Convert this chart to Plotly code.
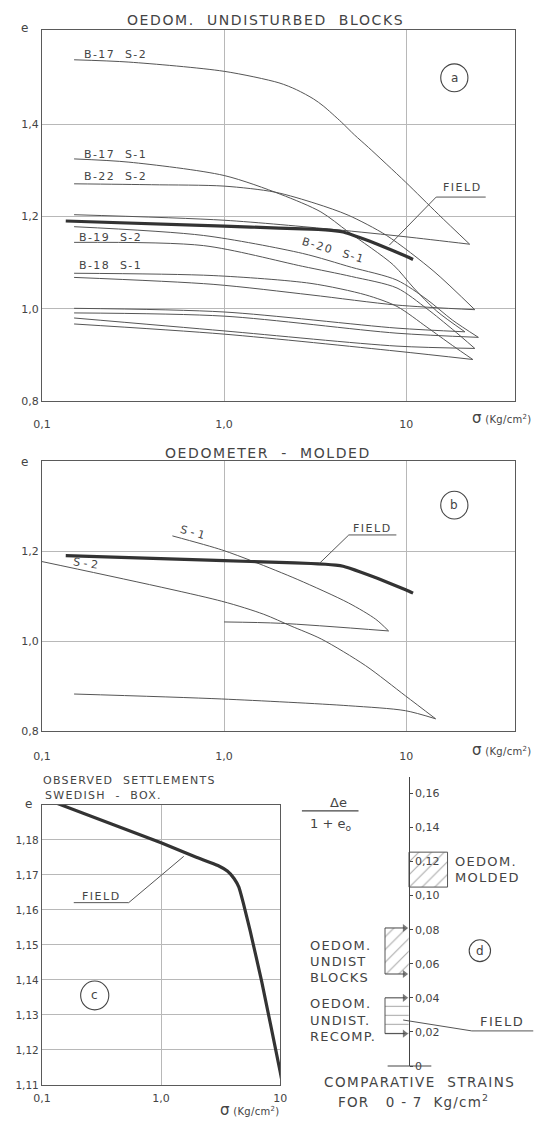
import plotly.graph_objects as go

W, H = 549, 1124


def px(x):
    return x / W


def py(y):
    return 1 - y / H


# ------------------------------------------------------------------ DATA
# Field curve (observed settlements) - sigma (kg/cm2), void ratio e
field_sigma = [0.135, 1.0, 2.0, 3.0, 3.6, 4.1, 4.5, 4.9, 5.6, 7.0, 10.0, 10.9]
field_e = [1.1904, 1.1792, 1.1750, 1.1727, 1.1711, 1.1690, 1.1665, 1.1620, 1.1540, 1.1395, 1.1138, 1.1070]

# (a) oedometer, undisturbed blocks: loading and unloading branches
b17s2_load_sig = [0.15, 0.3, 1.0, 2.0, 2.5, 3.1, 3.5, 4.4, 5.2, 6.2, 9.9, 15.0, 22.3]
b17s2_load_e = [1.540, 1.535, 1.515, 1.490, 1.475, 1.455, 1.440, 1.405, 1.377, 1.350, 1.275, 1.205, 1.140]
b17s2_unl_sig = [22.3, 10.0, 4.0, 1.0, 0.15]
b17s2_unl_e = [1.140, 1.156, 1.172, 1.192, 1.204]

b17s1_load_sig = [0.15, 0.3, 1.0, 2.05, 3.4, 4.8, 8.5, 11.0, 14.7, 21.0]
b17s1_load_e = [1.325, 1.318, 1.289, 1.248, 1.210, 1.167, 1.095, 1.045, 0.995, 0.950]
b17s1_unl_sig = [21.0, 8.9, 1.0, 0.15]
b17s1_unl_e = [0.950, 0.958, 0.993, 1.001]

b22s2_load_sig = [0.15, 0.4, 1.0, 1.9, 3.2, 4.8, 7.8, 14.2, 23.8]
b22s2_load_e = [1.271, 1.269, 1.266, 1.253, 1.228, 1.203, 1.159, 1.081, 0.998]
b22s2_unl_sig = [23.8, 8.9, 3.0, 0.87, 0.15]
b22s2_unl_e = [0.998, 1.008, 1.030, 1.053, 1.068]

b20s1_load_sig = [0.15, 0.77, 2.7, 5.0, 8.9, 13.0, 18.0, 24.9]
b20s1_load_e = [1.178, 1.159, 1.120, 1.090, 1.062, 1.020, 0.975, 0.938]
b20s1_unl_sig = [24.9, 8.9, 1.0, 0.15]
b20s1_unl_e = [0.938, 0.947, 0.984, 0.991]

b19s2_load_sig = [0.15, 0.77, 2.7, 5.0, 8.9, 13.0, 18.0, 23.8]
b19s2_load_e = [1.144, 1.137, 1.092, 1.070, 1.045, 1.000, 0.955, 0.914]
b19s2_unl_sig = [23.8, 8.9, 1.0, 0.15]
b19s2_unl_e = [0.914, 0.919, 0.952, 0.980]

b18s1_load_sig = [0.15, 0.87, 3.0, 6.0, 8.9, 13.0, 18.0, 23.2]
b18s1_load_e = [1.077, 1.072, 1.055, 1.030, 1.005, 0.960, 0.920, 0.890]
b18s1_unl_sig = [23.2, 8.9, 1.0, 0.15]
b18s1_unl_e = [0.890, 0.908, 0.945, 0.967]

# (b) oedometer, molded
s1_load_sig = [0.52, 0.97, 1.45, 2.54, 4.83, 6.8, 8.0]
s1_load_e = [1.234, 1.203, 1.177, 1.137, 1.085, 1.049, 1.023]
s1_unl_sig = [8.0, 2.04, 1.0]
s1_unl_e = [1.023, 1.040, 1.043]
s2_load_sig = [0.1, 0.97, 1.65, 2.33, 3.42, 5.98, 9.9, 14.5]
s2_load_e = [1.177, 1.089, 1.060, 1.034, 1.005, 0.946, 0.879, 0.828]
s2_unl_sig = [14.5, 9.9, 4.83, 0.97, 0.15]
s2_unl_e = [0.828, 0.846, 0.857, 0.872, 0.883]

# (d) comparative strains  de/(1+e0) for 0-7 kg/cm2
molded_range = [0.105, 0.1255]
blocks_range = [0.054, 0.081]
recomp_range = [0.019, 0.040]
field_strain = 0.027

# tick labels
x_ticks = [0.1, 1, 10]
x_ticktext = ["0,1", "1,0", "10"]
ya_ticks = [0.8, 1.0, 1.2, 1.4]
ya_text = ["0,8", "1,0", "1,2", "1,4"]
yb_ticks = [0.8, 1.0, 1.2]
yb_text = ["0,8", "1,0", "1,2"]
yc_ticks = [1.11, 1.12, 1.13, 1.14, 1.15, 1.16, 1.17, 1.18]
yc_text = ["1,11", "1,12", "1,13", "1,14", "1,15", "1,16", "1,17", "1,18"]
yd_ticks = [0, 0.02, 0.04, 0.06, 0.08, 0.10, 0.12, 0.14, 0.16]
yd_text = ["0", "0,02", "0,04", "0,06", "0,08", "0,10", "0,12", "0,14", "0,16"]

# ------------------------------------------------------------------ STYLE
INK = "#444444"
THIN = dict(color="#555555", width=1.0, shape="spline", smoothing=0.8)
THICK = dict(color="#333333", width=3.2, shape="spline", smoothing=0.4)
GRID = "#b8b8b8"
AXC = "#5a5a5a"
FONT = "DejaVu Sans"
CLEAR = "rgba(0,0,0,0)"

fig = go.Figure()


def curve(sig, e, ax, thick=False):
    fig.add_trace(go.Scatter(x=sig, y=e, mode="lines", line=THICK if thick else THIN,
                             xaxis=ax[0], yaxis=ax[1], showlegend=False, hoverinfo="skip"))


A = ("x", "y")
B = ("x2", "y2")
C = ("x3", "y3")

for s, e in [(b17s2_load_sig, b17s2_load_e), (b17s2_unl_sig, b17s2_unl_e),
             (b17s1_load_sig, b17s1_load_e), (b17s1_unl_sig, b17s1_unl_e),
             (b22s2_load_sig, b22s2_load_e), (b22s2_unl_sig, b22s2_unl_e),
             (b20s1_load_sig, b20s1_load_e), (b20s1_unl_sig, b20s1_unl_e),
             (b19s2_load_sig, b19s2_load_e), (b19s2_unl_sig, b19s2_unl_e),
             (b18s1_load_sig, b18s1_load_e), (b18s1_unl_sig, b18s1_unl_e)]:
    curve(s, e, A)
curve(field_sigma, field_e, A, thick=True)

for s, e in [(s1_load_sig, s1_load_e), (s1_unl_sig, s1_unl_e),
             (s2_load_sig, s2_load_e), (s2_unl_sig, s2_unl_e)]:
    curve(s, e, B)
curve(field_sigma, field_e, B, thick=True)

curve(field_sigma, field_e, C, thick=True)

# (d) hatched strain ranges (x positions are layout constants, paper fraction)
D_LEFT = px(290)
MX0, MX1 = px(412), px(451.7)
BX0, BX1 = px(387.3), px(411.7)
ARROW_TIP = px(407.5)


def hatch_box(x0, x1, rng, pattern, outline):
    fig.add_trace(go.Scatter(
        x=[x0, x1, x1, x0, x0], y=[rng[0], rng[0], rng[1], rng[1], rng[0]],
        mode="lines", fill="toself", fillcolor=CLEAR,
        fillpattern=dict(shape=pattern, size=9, solidity=0.12, fgcolor="#555555", bgcolor=CLEAR),
        line=dict(color="#555555", width=1 if outline else 0),
        xaxis="x4", yaxis="y4", showlegend=False, hoverinfo="skip"))


hatch_box(MX0, MX1, molded_range, "/", True)
hatch_box(BX0, BX1, blocks_range, "/", False)
hatch_box(BX0, BX1, recomp_range, "-", False)
for rng in (blocks_range, recomp_range):
    # left edge of the range
    fig.add_trace(go.Scatter(x=[BX0, BX0], y=rng, mode="lines", line=dict(color="#555555", width=1),
                             xaxis="x4", yaxis="y4", showlegend=False, hoverinfo="skip"))
    # arrows at both limits, pointing at the strain axis
    for v in rng:
        fig.add_trace(go.Scatter(x=[BX0, ARROW_TIP], y=[v, v], mode="lines+markers",
                                 line=dict(color="#444444", width=1),
                                 marker=dict(symbol=["circle", "triangle-right"], size=[0, 7],
                                             color="#444444", line=dict(width=0)),
                                 xaxis="x4", yaxis="y4", showlegend=False, hoverinfo="skip"))

# ------------------------------------------------------------------ AXES
base_x = dict(type="log", showline=True, linecolor=AXC, linewidth=1.2, mirror=True,
              showgrid=True, gridcolor=GRID, gridwidth=1, zeroline=False, ticks="",
              tickvals=x_ticks, ticktext=x_ticktext, tickfont=dict(size=11, color=INK),
              fixedrange=True)
base_y = dict(showline=True, linecolor=AXC, linewidth=1.2, mirror=True,
              showgrid=True, gridcolor=GRID, gridwidth=1, zeroline=False, ticks="",
              tickfont=dict(size=11, color=INK), fixedrange=True)

layout = dict(
    width=W, height=H, autosize=False,
    margin=dict(l=0, r=0, t=0, b=0, pad=0),
    paper_bgcolor="white", plot_bgcolor=CLEAR,
    font=dict(family=FONT, color=INK, size=11),
    showlegend=False,
    xaxis=dict(base_x, domain=[px(34), px(521.7)], range=[-1, 1.6], anchor="y", ticklabelstandoff=13),
    yaxis=dict(base_y, domain=[py(403.5), py(30)], range=[0.8, 1.605], anchor="x",
               tickvals=ya_ticks, ticktext=ya_text),
    xaxis2=dict(base_x, domain=[px(34), px(521.7)], range=[-1, 1.6], anchor="y2", ticklabelstandoff=14),
    yaxis2=dict(base_y, domain=[py(736), py(464)], range=[0.8, 1.4], anchor="x2",
                tickvals=yb_ticks, ticktext=yb_text),
    xaxis3=dict(base_x, domain=[px(34), px(279.3)], range=[-1, 1], anchor="y3", ticklabelstandoff=3),
    yaxis3=dict(base_y, domain=[py(1091.7), py(810)], range=[1.11, 1.19], anchor="x3",
                tickvals=yc_ticks, ticktext=yc_text, tickfont=dict(size=10.5, color=INK)),
    xaxis4=dict(domain=[D_LEFT, 1], range=[D_LEFT, 1], visible=False, anchor="y4", fixedrange=True),
    yaxis4=dict(domain=[py(1072.7), py(781.7)], range=[0, 0.1697], anchor="free", position=px(411.7),
                side="right", showline=True, linecolor="#444444", linewidth=1.3, showgrid=False,
                zeroline=False, ticks="outside", ticklen=3, tickcolor="#444444",
                tickvals=yd_ticks, ticktext=yd_text, tickfont=dict(size=11, color=INK), fixedrange=True),
)
fig.update_layout(**layout)

# ------------------------------------------------------------------ TEXT
ann = []


def txt(x, y, s, size=11, xanchor="center", angle=0, ls=None):
    if ls:
        s = "<span style='letter-spacing:%spx'>%s</span>" % (ls, s)
    ann.append(dict(x=px(x), y=py(y), xref="paper", yref="paper", text=s, showarrow=False,
                    xanchor=xanchor, yanchor="middle", textangle=angle,
                    font=dict(size=size, color=INK, family=FONT)))


SIG = "<span style='font-size:15px'>σ</span> (Kg/cm<sup>2</sup>)"

# panel a
txt(264, 20, "OEDOM.  UNDISTURBED  BLOCKS", 14, ls=1.6)
txt(16, 28, "e", 12)
txt(507, 421, SIG, 10, ls=0.3)
txt(75, 55, "B-17  S-2", 11, "left", ls=1.4)
txt(75, 155, "B-17  S-1", 11, "left", ls=1.4)
txt(75, 177.7, "B-22  S-2", 11, "left", ls=1.4)
txt(70, 239.3, "B-19  S-2", 11, "left", ls=1.4)
txt(70, 267.3, "B-18  S-1", 11, "left", ls=1.4)
txt(334, 252, "B-20  S-1", 11, angle=17, ls=1.6)
txt(467.5, 188.3, "FIELD", 11, ls=1.5)
txt(458.7, 78.3, "a", 12)

# panel b
txt(267, 455.7, "OEDOMETER  -  MOLDED", 14, ls=1.6)
txt(16, 465, "e", 12)
txt(507, 755, SIG, 10, ls=0.3)
txt(374.5, 531.7, "FIELD", 11, ls=1.5)
txt(189, 536, "S - 1", 11, angle=16)
txt(79, 567, "S - 2", 11, angle=8)
txt(458.7, 508.3, "b", 12)

# panel c
txt(33, 785, "OBSERVED  SETTLEMENTS", 11, "left", ls=1.3)
txt(35, 800, "SWEDISH  -  BOX.", 11, "left", ls=1.3)
txt(20, 809, "e", 12)
txt(248, 1116.5, SIG, 10, ls=0.3)
txt(95, 901.7, "FIELD", 11, ls=1.5)
txt(88.3, 1001.7, "c", 12)

# panel d
txt(339, 808, "Δe", 13)
txt(331, 830, "1 + e<sub>o</sub>", 13)
txt(457, 866.7, "OEDOM.", 13, "left", ls=1.3)
txt(457, 883, "MOLDED", 13, "left", ls=1.3)
for i, s in enumerate(["OEDOM.", "UNDIST", "BLOCKS"]):
    txt(308, 951.7 + i * 16, s, 13, "left", ls=1.2)
for i, s in enumerate(["OEDOM.", "UNDIST.", "RECOMP."]):
    txt(308, 1010 + i * 16.6, s, 13, "left", ls=1.2)
txt(508, 1028, "FIELD", 13, ls=1.5)
txt(485, 956.7, "d", 12)
txt(423, 1088.3, "COMPARATIVE  STRAINS", 13.5, ls=1.5)
txt(417, 1108.3, "FOR   0 - 7  Kg/cm<sup>2</sup>", 13.5, ls=1.2)

fig.update_layout(annotations=ann)

# ------------------------------------------------------------------ SHAPES
shapes = []


def seg(x0, y0, x1, y1, w=1, c="#555555"):
    shapes.append(dict(type="line", xref="paper", yref="paper", x0=px(x0), y0=py(y0),
                       x1=px(x1), y1=py(y1), line=dict(color=c, width=w)))


def circ(cx, cy, r):
    shapes.append(dict(type="circle", xref="paper", yref="paper", x0=px(cx - r), x1=px(cx + r),
                       y0=py(cy + r), y1=py(cy - r), line=dict(color="#444444", width=1.1)))


# leaders
seg(440, 198.3, 491, 198.3)
seg(440, 198.3, 391.7, 246.7)
seg(350, 538.3, 399, 538.3)
seg(350, 538.3, 320, 566.7)
seg(66.7, 908.3, 123.3, 908.3)
seg(123.3, 908.3, 180, 861.7)
# fraction bar
seg(301.7, 816, 360, 816, 1.1, "#444444")
# baseline of strain axis
seg(390, 1072.7, 435, 1072.7, 1.2, "#444444")
# field strain marker + leader
shapes.append(dict(type="line", xref="paper", yref="y4", x0=px(406), x1=px(476.7),
                   y0=field_strain, y1=field_strain - 0.0064, line=dict(color="#555555", width=1)))
shapes.append(dict(type="line", xref="paper", yref="y4", x0=px(476.7), x1=px(540),
                   y0=field_strain - 0.0064, y1=field_strain - 0.0064, line=dict(color="#555555", width=1)))
circ(458.7, 78.3, 14)
circ(458.7, 508.3, 14)
circ(88.3, 1001.7, 14.5)
circ(485, 956.7, 11)
fig.update_layout(shapes=shapes)

fig.write_html("out.html", post_script="document.body.style.margin='0';document.body.style.padding='0';")
